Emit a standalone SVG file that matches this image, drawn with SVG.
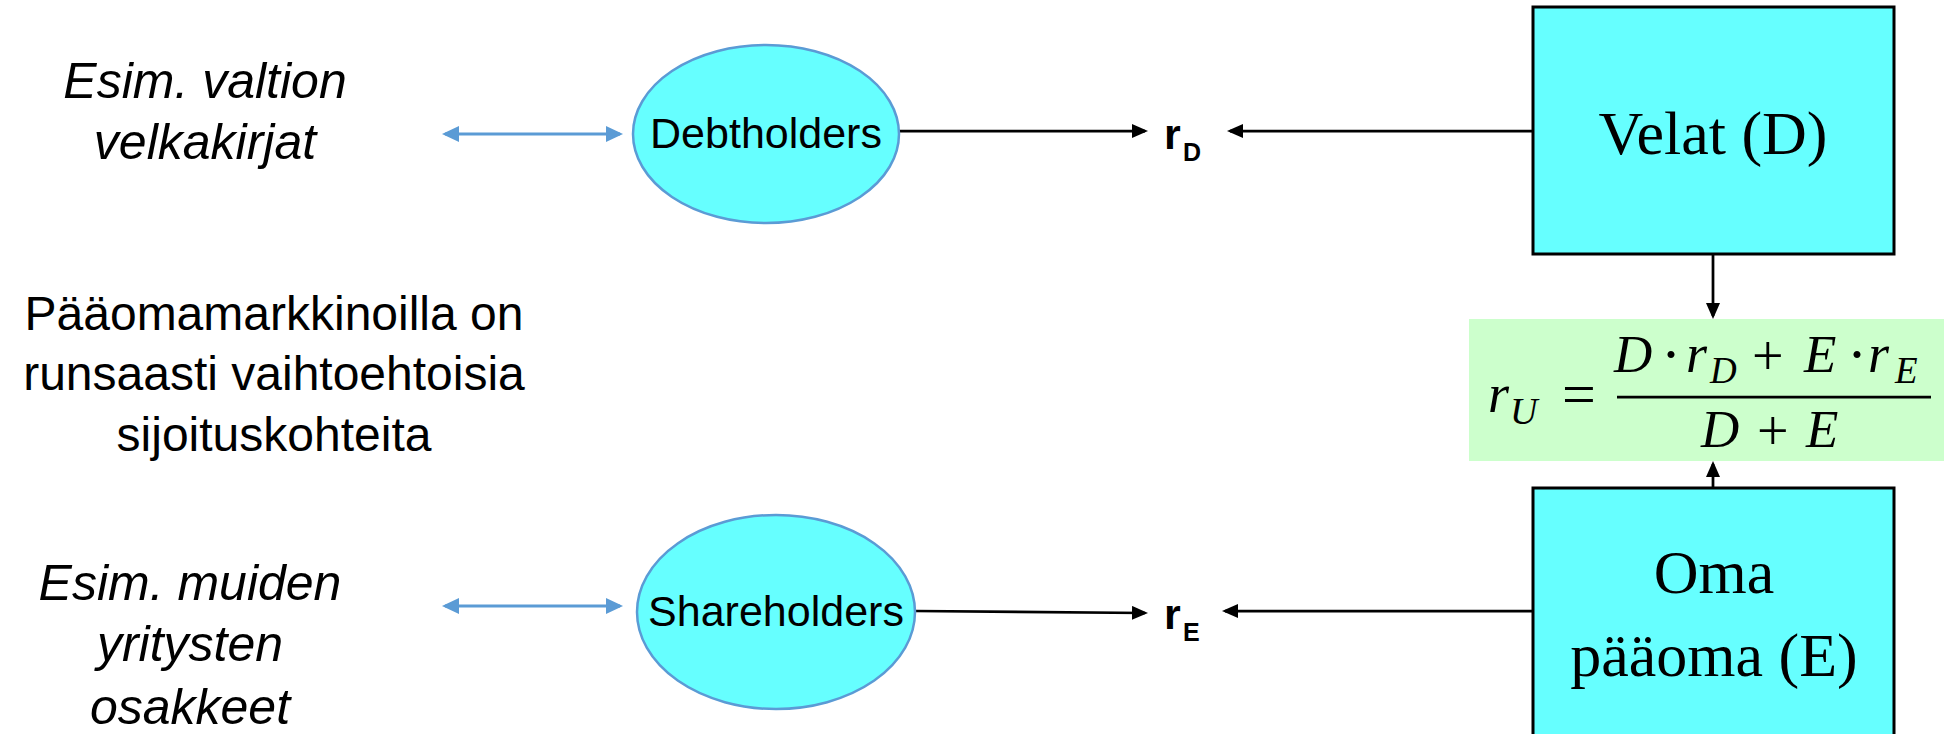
<svg xmlns="http://www.w3.org/2000/svg" width="1944" height="734" viewBox="0 0 1944 734">
<style>
.it{font-family:"Liberation Sans",Arial,sans-serif;font-style:italic;font-size:50px;fill:#000;text-anchor:middle}
.reg{font-family:"Liberation Sans",Arial,sans-serif;font-size:48px;fill:#000;text-anchor:middle}
.ell{fill:#66FFFF;stroke:#5B9BD5;stroke-width:2.5}
.elltxt{font-family:"Liberation Sans",Arial,sans-serif;font-size:43px;fill:#000;text-anchor:middle}
.box{fill:#66FFFF;stroke:#000;stroke-width:3}
.boxtxt{font-family:"Liberation Serif","Times New Roman",serif;font-size:62px;fill:#000;text-anchor:middle}
.rb{font-family:"Liberation Sans",Arial,sans-serif;font-weight:bold;fill:#000}
.conn{stroke:#000;stroke-width:2.75;fill:none}
.blue{stroke:#5B9BD5;stroke-width:3;fill:none}
.m{font-family:"Liberation Serif","Times New Roman",serif;font-style:italic;fill:#000}
.mo{font-family:"Liberation Serif","Times New Roman",serif;fill:#000}
</style>
<defs>
<marker id="ah" markerUnits="userSpaceOnUse" markerWidth="16" markerHeight="14" viewBox="0 0 16 14" refX="13" refY="7" orient="auto-start-reverse">
<path d="M0,0 L16,7 L0,14 z" fill="#000"/>
</marker>
<marker id="ab" markerUnits="userSpaceOnUse" markerWidth="17" markerHeight="16" viewBox="0 0 17 16" refX="14" refY="8" orient="auto-start-reverse">
<path d="M0,0 L17,8 L0,16 z" fill="#5B9BD5"/>
</marker>
</defs>
<rect width="1944" height="734" fill="#fff"/>

<g id="connectors">
<line class="blue" x1="445" y1="134" x2="620" y2="134" marker-start="url(#ab)" marker-end="url(#ab)"/>
<line class="blue" x1="445" y1="606" x2="620" y2="606" marker-start="url(#ab)" marker-end="url(#ab)"/>
<line class="conn" x1="899" y1="131" x2="1145" y2="131" marker-end="url(#ah)"/>
<line class="conn" x1="1533" y1="131" x2="1230" y2="131" marker-end="url(#ah)"/>
<line class="conn" x1="915" y1="611" x2="1145" y2="613" marker-end="url(#ah)"/>
<line class="conn" x1="1533" y1="611" x2="1225" y2="611" marker-end="url(#ah)"/>
<line class="conn" x1="1713" y1="254" x2="1713" y2="316" marker-end="url(#ah)"/>
<line class="conn" x1="1713" y1="488" x2="1713" y2="464" marker-end="url(#ah)"/>
</g>

<g id="text-valtion">
<text class="it" x="205" y="98">Esim. valtion</text>
<text class="it" x="205" y="159">velkakirjat</text>
</g>
<g id="text-markets">
<text class="reg" x="274" y="330">Pääomamarkkinoilla on</text>
<text class="reg" x="274" y="390">runsaasti vaihtoehtoisia</text>
<text class="reg" x="274" y="451">sijoituskohteita</text>
</g>
<g id="text-muiden">
<text class="it" x="190" y="600">Esim. muiden</text>
<text class="it" x="190" y="661">yritysten</text>
<text class="it" x="190" y="724">osakkeet</text>
</g>

<g id="debtholders">
<ellipse class="ell" cx="766" cy="134" rx="133" ry="89"/>
<text class="elltxt" x="766" y="148">Debtholders</text>
</g>
<g id="shareholders">
<ellipse class="ell" cx="776" cy="612" rx="139" ry="97"/>
<text class="elltxt" x="776" y="626">Shareholders</text>
</g>

<g id="rD">
<text class="rb" x="1164" y="149" font-size="43">r</text>
<text class="rb" x="1183" y="161" font-size="25">D</text>
</g>
<g id="rE">
<text class="rb" x="1164" y="629" font-size="43">r</text>
<text class="rb" x="1183" y="641" font-size="25">E</text>
</g>

<g id="velat">
<rect class="box" x="1533" y="7" width="361" height="247"/>
<text class="boxtxt" x="1713" y="154">Velat (D)</text>
</g>

<g id="oma">
<rect class="box" x="1533" y="488" width="361" height="260"/>
<text class="boxtxt" x="1714" y="593">Oma</text>
<text class="boxtxt" x="1714" y="676">pääoma (E)</text>
</g>

<g id="formula">
<rect x="1469" y="319" width="475" height="142" fill="#CCFFCC"/>
<text class="m" x="1488" y="412" font-size="54">r</text>
<text class="m" x="1510" y="424" font-size="38">U</text>
<text class="mo" x="1562" y="414" font-size="60">=</text>
<line x1="1617" y1="397" x2="1931" y2="397" stroke="#000" stroke-width="2.75"/>
<text class="m" x="1614" y="372" font-size="53">D</text>
<text class="mo" x="1661" y="374" font-size="60">·</text>
<text class="m" x="1686" y="372" font-size="54">r</text>
<text class="m" x="1710" y="383" font-size="37">D</text>
<text class="mo" x="1752" y="375" font-size="56">+</text>
<text class="m" x="1804" y="372" font-size="53">E</text>
<text class="mo" x="1847" y="374" font-size="60">·</text>
<text class="m" x="1868" y="372" font-size="54">r</text>
<text class="m" x="1895" y="383" font-size="37">E</text>
<text class="m" x="1701" y="447" font-size="53">D</text>
<text class="mo" x="1757" y="450" font-size="56">+</text>
<text class="m" x="1806" y="447" font-size="53">E</text>
</g>
</svg>
